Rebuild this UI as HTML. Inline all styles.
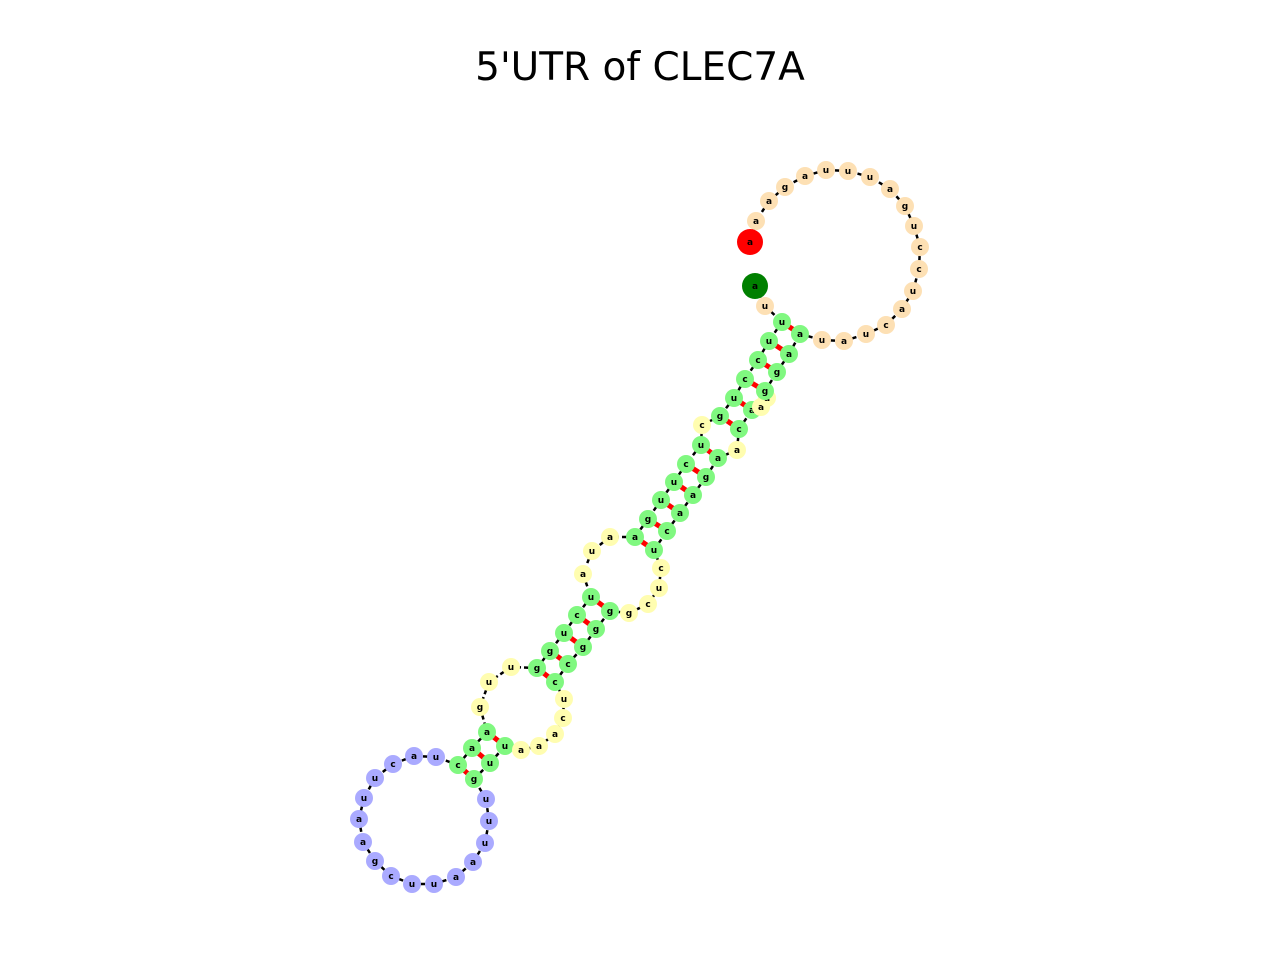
<!DOCTYPE html>
<html><head><meta charset="utf-8"><style>
body{margin:0;background:#fff}
svg{display:block}
</style></head><body>
<svg id="chart" width="1280" height="960" xmlns="http://www.w3.org/2000/svg">
<text x="640" y="80" text-anchor="middle" font-family="DejaVu Sans, sans-serif" font-size="39">5'UTR of CLEC7A</text>
<g id="pairs"></g><g id="backbone"></g><g id="nodes"></g>
</svg>
<script>
const seq = ("au"+"uuccug"+"c"+"ucuuga"+"aua"+"ucugg"+"uug"+"aac"+"uacuuaagcuuaauuu"+"guu"+"aaacu"+"ccggg"+"gcuc"+"ucaaga"+"a"+"ca"+"au"+"ggaa"+"uaucauccugauuuagaa"+"a").split("");
const xs = [755,765,782,769,758,745,734,720,702,701,686,674,661,648,635,610,592,583,591,577,564,550,537,511,489,480,487,472,458,436,414,393,375,364,359,363,375,391,412,434,456,473,485,489,486,474,490,505,521,539,555,563,564,555,568,583,596,610,629,648,659,661,654,667,680,693,706,718,737,739,752,761,767,765,777,789,800,822,844,866,886,902,913,919,920,914,905,890,870,848,826,805,785,769,756,750];
const ys = [286,306,322,341,360,379,398,416,425,445,464,482,500,519,537,537,551,574,597,615,633,651,668,667,682,707,732,748,765,757,756,764,778,798,819,842,861,876,884,884,877,862,843,821,799,779,763,746,750,746,734,718,699,682,664,647,629,611,613,604,588,568,550,531,513,495,477,458,450,429,410,407,398,391,372,354,334,340,341,334,325,309,291,269,247,226,206,189,177,171,170,176,187,201,221,242];
const kinds = ("S"+"O"+"HHHHHH"+"Y"+"HHHHHH"+"YYY"+"HHHHH"+"YYY"+"HHH"+"BBBBBBBBBBBBBBBB"+"HHH"+"YYYYY"+"HHHHH"+"YYYY"+"HHHHHH"+"Y"+"HH"+"YY"+"HHHH"+"OOOOOOOOOOOOOOOOOO"+"E").split("");
const pairI = [3,4,5,6,7,8,10,11,12,13,14,15,19,20,21,22,23,27,28,29];
const pairJ = [77,76,75,74,71,70,68,67,66,65,64,63,58,57,56,55,54,48,47,46];
const colors={S:"#008000",E:"#ff0000",O:"#fde0b4",H:"#80f880",Y:"#fffdb0",B:"#aaaaff"};
const NS="http://www.w3.org/2000/svg";
const pg=document.getElementById('pairs'),bg=document.getElementById('backbone'),ng=document.getElementById('nodes');
for(let k=0;k<pairI.length;k++){
 const i=pairI[k]-1,j=pairJ[k]-1;
 const l=document.createElementNS(NS,'line');
 l.setAttribute('x1',xs[i]);l.setAttribute('y1',ys[i]);l.setAttribute('x2',xs[j]);l.setAttribute('y2',ys[j]);
 l.setAttribute('stroke','#ff0000');l.setAttribute('stroke-width','5');
 
 
 pg.appendChild(l);
}
for(let i=0;i<seq.length-1;i++){
 const l=document.createElementNS(NS,'line');
 l.setAttribute('x1',xs[i]);l.setAttribute('y1',ys[i]);l.setAttribute('x2',xs[i+1]);l.setAttribute('y2',ys[i+1]);
 l.setAttribute('stroke','#000');l.setAttribute('stroke-width','2.5');l.setAttribute('stroke-dasharray','5,3');
 
 
 bg.appendChild(l);
}
for(let i=0;i<seq.length;i++){
 const big=kinds[i]==='S'||kinds[i]==='E';
 const c=document.createElementNS(NS,'circle');
 c.setAttribute('cx',xs[i]);c.setAttribute('cy',ys[i]);c.setAttribute('r',big?13:9);
 c.setAttribute('fill',colors[kinds[i]]);
 
 
 ng.appendChild(c);
 const t=document.createElementNS(NS,'text');
 t.setAttribute('x',xs[i]);t.setAttribute('y',ys[i]+3);
 t.setAttribute('text-anchor','middle');t.setAttribute('font-family','DejaVu Sans, sans-serif');
 t.setAttribute('font-weight','bold');t.setAttribute('font-size','9');
 t.textContent=seq[i];
 
 
 ng.appendChild(t);
}
</script>
</body></html>
